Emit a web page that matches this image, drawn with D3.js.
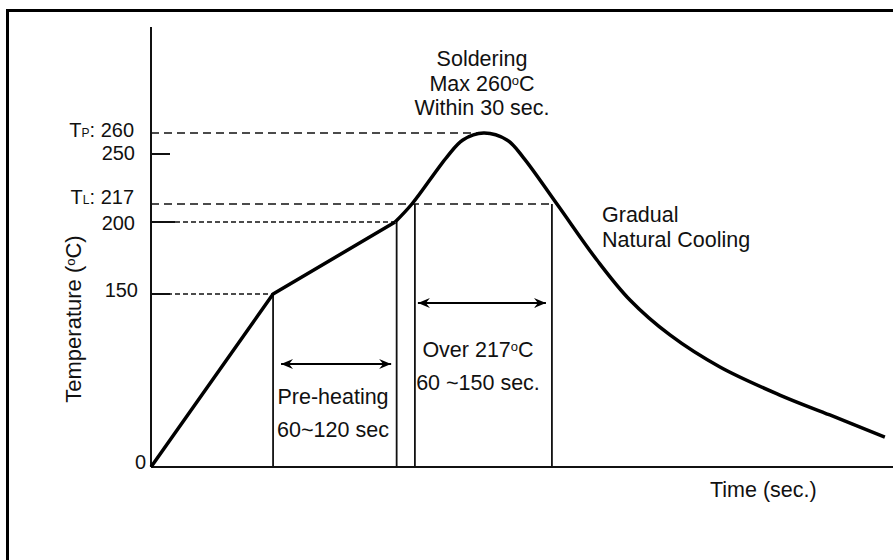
<!DOCTYPE html>
<html>
<head>
<meta charset="utf-8">
<script src="https://cdn.jsdelivr.net/npm/d3@7"></script>
<style>
  body { margin: 0; background: #fff; }
  text { font-family: "Liberation Sans", Arial, sans-serif; font-size: 21.5px; fill: #111; }
  text.tick { font-size: 20px; }
  text.ylab { font-size: 22px; }
</style>
</head>
<body>
<div id="chart"></div>
<script>
// reflow profile (time in sec, temperature in degC)
const profileRamp = [[0, 0], [51, 150], [102, 200]];
const profileCurve = [[102, 200], [109, 217], [123.6, 248], [130.3, 256.7], [139, 260],
                      [148.7, 256.7], [155.4, 248], [169.6, 217], [186.3, 173.6], [200.1, 144.8],
                      [216.8, 114.5], [237.7, 86.7], [262.7, 62.4], [283.6, 45.1], [306.6, 26]];
const tempTicks = [0, 150, 200, 217, 250, 260];
const tickLabels = ["0", "150", "200", "217", "250", "260"];
const tickPrefix = { 217: "L", 260: "P" };
const marks = { preStart: 51, preEnd: 102, overStart: 109, overEnd: 167.5, peak: 139 };

const width = 893, height = 560;

const svg = d3.select("#chart").append("svg")
    .attr("width", width)
    .attr("height", height);

// schematic: temperature axis is not linear, so piecewise scale
const y = d3.scaleLinear()
    .domain([0, 150, 200, 217, 250, 260])
    .range([467, 294, 222, 204, 154, 133]);
const x = d3.scaleLinear().domain([0, 310]).range([151, 893]);

// outer frame (left + top)
svg.append("path")
    .attr("d", "M7.5,560 V10.5 H893")
    .attr("fill", "none").attr("stroke", "#000").attr("stroke-width", 3);

// axes
svg.append("line").attr("x1", x(0)).attr("x2", x(0)).attr("y1", 27).attr("y2", y(0))
    .attr("stroke", "#111").attr("stroke-width", 2);
svg.append("line").attr("x1", x(0)).attr("x2", 893).attr("y1", y(0)).attr("y2", y(0))
    .attr("stroke", "#111").attr("stroke-width", 2);

// short solid ticks
[[250, 19], [200, 24], [150, 19]].forEach(([t, len]) => {
    svg.append("line").attr("x1", x(0)).attr("x2", x(0) + len).attr("y1", y(t)).attr("y2", y(t))
        .attr("stroke", "#111").attr("stroke-width", 2);
});

// dashed guide lines
function guide(t, xEnd, dash, w) {
    svg.append("line").attr("x1", x(0)).attr("x2", xEnd).attr("y1", y(t)).attr("y2", y(t))
        .attr("stroke", "#111").attr("stroke-width", w).attr("stroke-dasharray", dash);
}
guide(260, x(marks.peak), "8,5", 1.5);
guide(217, x(marks.overEnd), "8,5", 1.5);
guide(200, x(marks.preEnd), "5,3", 1.3);
guide(150, x(marks.preStart), "5,3", 1.3);

// vertical drop lines
[[marks.preStart, 150], [marks.preEnd, 200], [marks.overStart, 217], [marks.overEnd, 217]].forEach(([t, v], i) => {
    const xx = x(t) + (i === 1 ? 1.5 : (i === 2 ? 3 : 0));
    svg.append("line").attr("x1", xx).attr("x2", xx).attr("y1", y(v)).attr("y2", y(0))
        .attr("stroke", "#111").attr("stroke-width", 1.8);
});

// profile line
const line = d3.line().x(d => x(d[0])).y(d => y(d[1]));
svg.append("path").datum(profileRamp).attr("d", line)
    .attr("fill", "none").attr("stroke", "#000").attr("stroke-width", 3.5).attr("stroke-linejoin", "round");
svg.append("path").datum(profileCurve).attr("d", line.curve(d3.curveCatmullRom.alpha(0.5)))
    .attr("fill", "none").attr("stroke", "#000").attr("stroke-width", 3.5).attr("stroke-linejoin", "round");

// arrowheads
const defs = svg.append("defs");
["start", "end"].forEach(k => {
    defs.append("marker")
        .attr("id", "arr-" + k)
        .attr("viewBox", "0 0 12 10")
        .attr("refX", k === "end" ? 12 : 0).attr("refY", 5)
        .attr("markerWidth", 12).attr("markerHeight", 10)
        .attr("markerUnits", "userSpaceOnUse")
        .attr("orient", "auto")
        .append("path")
        .attr("d", k === "end" ? "M0,0 L12,5 L0,10 L4,5 Z" : "M12,0 L0,5 L12,10 L8,5 Z")
        .attr("fill", "#000");
});
function arrow(x1, x2, yy) {
    svg.append("line").attr("x1", x1).attr("x2", x2).attr("y1", yy).attr("y2", yy)
        .attr("stroke", "#000").attr("stroke-width", 1.8)
        .attr("marker-start", "url(#arr-start)").attr("marker-end", "url(#arr-end)");
}
arrow(x(marks.preStart) + 8, x(marks.preEnd) - 4, 364);
arrow(x(marks.overStart) + 6, x(marks.overEnd) - 6, 303);

// tick labels (TP / TL carry a small subscript-like letter)
const labelEnd = { 0: 146, 150: 138, 200: 135, 217: 134, 250: 135, 260: 134 };
const labelDy = { 0: 2, 150: 3, 200: 8, 217: 0, 250: 6, 260: 4 };
tempTicks.forEach((t, i) => {
    const tx = svg.append("text").attr("class", "tick")
        .attr("x", labelEnd[t]).attr("y", y(t) + labelDy[t])
        .attr("text-anchor", "end");
    if (tickPrefix[t]) {
        tx.append("tspan").text("T");
        tx.append("tspan").attr("font-size", 12).text(tickPrefix[t]);
        tx.append("tspan").text(": " + tickLabels[i]);
    } else {
        tx.text(tickLabels[i]);
    }
});

// degree-C helper
function degText(sel, before, after) {
    sel.append("tspan").text(before);
    sel.append("tspan").attr("font-size", 13).attr("dy", -6).text("o");
    sel.append("tspan").attr("dy", 6).text(after);
}

// annotations
svg.append("text").attr("text-anchor", "middle").attr("x", 482).attr("y", 66).text("Soldering");
const maxLine = svg.append("text").attr("text-anchor", "middle").attr("x", 482).attr("y", 91);
degText(maxLine, "Max 260", "C");
svg.append("text").attr("text-anchor", "middle").attr("x", 482).attr("y", 115).text("Within 30 sec.");

svg.append("text").attr("x", 602).attr("y", 222).text("Gradual");
svg.append("text").attr("x", 602).attr("y", 247).text("Natural Cooling");

svg.append("text").attr("text-anchor", "middle").attr("x", 333).attr("y", 404).text("Pre-heating");
svg.append("text").attr("text-anchor", "middle").attr("x", 333).attr("y", 437).text("60~120 sec");

const over = svg.append("text").attr("text-anchor", "middle").attr("x", 478).attr("y", 357);
degText(over, "Over 217", "C");
svg.append("text").attr("text-anchor", "middle").attr("x", 478).attr("y", 390).text("60 ~150 sec.");

svg.append("text").attr("x", 710).attr("y", 497).text("Time (sec.)");

const yl = svg.append("text").attr("class", "ylab").attr("text-anchor", "middle")
    .attr("transform", "translate(81,319) rotate(-90)");
degText(yl, "Temperature (", "C)");
</script>
</body>
</html>
